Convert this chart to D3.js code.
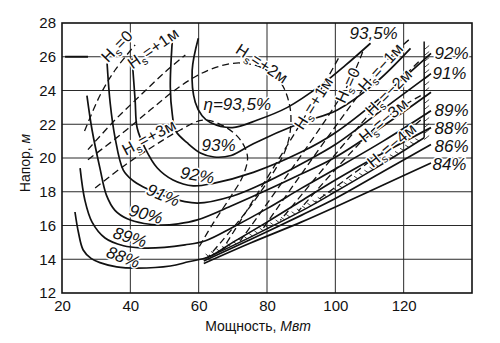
<!DOCTYPE html>
<html>
<head>
<meta charset="utf-8">
<script src="https://cdn.jsdelivr.net/npm/d3@7"></script>
<style>
  body { margin: 0; background: #fff; }
  svg { display: block; }
  text { font-family: "Liberation Sans", Arial, sans-serif; fill: #111; }
  .grid line { stroke: #2a2a2a; stroke-width: 1; }
  .frame { fill: none; stroke: #111; stroke-width: 1.6; }
  .eff { fill: none; stroke: #111; stroke-width: 1.7; }
  .hs { fill: none; stroke: #111; stroke-width: 1.3; stroke-dasharray: 7,4; }
  .limit { fill: none; stroke: #111; stroke-width: 1.5; }
  .lbl { paint-order: stroke; stroke: #fff; stroke-width: 3px; stroke-linejoin: round; }
  .pct { font-style: italic; font-size: 17px; }
  .hsl { font-size: 16px; letter-spacing: 0.5px; }
</style>
</head>
<body>
<div id="chart"></div>
<script>
// axis ticks
const xTicks = [20, 40, 60, 80, 100, 120];
const yTicks = [12, 14, 16, 18, 20, 22, 24, 26, 28];

// efficiency contours, points are [power MW, head m]
const eff84 = [[61.5,13.75],[75,14.95],[90,16.2],[100,17.1],[114,18.4],[128,19.7]];
const eff86 = [[61.5,13.9],[75,15.15],[90,16.6],[100,17.6],[114,19.2],[128,20.8]];
const eff88 = [[23.8,16.8],[24.8,15.6],[26.2,14.55],[28.5,14.05],[31.1,13.8],[36,13.55],[42,13.48],[51.7,13.6],[57,13.85],[63,14.15],[70,15.0],[80,16.2],[90,17.45],[100,18.7],[114,20.3],[128,21.8]];
const eff89 = [[25.3,19.4],[26.7,17.5],[28.8,16.2],[32.6,15.26],[38,14.8],[43,14.67],[50,14.7],[56,14.85],[62,15.1],[70,15.9],[80,17.0],[90,18.2],[100,19.35],[114,21.0],[128,22.8]];
const eff90 = [[27.3,23.7],[28.8,21.66],[31.1,19.4],[33.0,17.8],[35.5,16.9],[39.1,16.4],[44,16.12],[48.7,16.03],[54,16.1],[59.6,16.33],[70,17.2],[80,18.1],[90,19.05],[100,20.05],[114,21.9],[128,23.9]];
const eff91 = [[33.2,25.6],[34.1,23.26],[35.5,21.24],[37.9,19.3],[40.5,18.7],[43.8,18.28],[50.8,17.69],[59.6,17.33],[70,17.75],[80,18.6],[90,19.65],[100,20.8],[114,22.9],[128,25.0]];
const eff92 = [[40.5,25.9],[41.4,23.44],[42.0,21.78],[44.3,20.59],[47.9,19.41],[52.5,18.7],[58.4,18.35],[64.3,18.5],[76,19.15],[90,20.35],[100,21.5],[114,23.7],[128,26.2]];
const eff93 = [[52.3,27.0],[51.7,24.2],[52.3,22.55],[53.3,21.6],[56.7,20.89],[60.5,20.3],[64.5,20.06],[69.5,20.15],[76,20.85],[89.8,22.07],[100.6,22.85],[112,24.5],[122,26.5]];
const eff935 = [[59.9,27.1],[58.1,25.2],[59.0,23.3],[61,22.5],[63.4,22.1],[69.9,21.8],[77.2,22.25],[86,23.0],[95.7,24.3],[103,25.5],[110.3,26.8]];

// suction head lines H_s
const hs0Left = [[26.6,21.6],[31.1,23.7],[35.5,25.2],[41.4,26.7]];
const hs1Left = [[27.6,20.5],[35.5,22.25],[42.9,23.7],[50.2,25.1],[56.1,26.1]];
const hs2 = [[27.6,19.9],[37.0,21.36],[45.8,22.84],[53.1,24.03],[59.9,24.92],[66.3,25.45],[72.2,25.63],[78.7,25.33],[83.9,24.5],[86.6,23.14],[86.9,21.78],[85.4,20.47],[81.0,18.87],[74.3,16.92],[66.3,14.96],[62.5,14.07]];
const hs3 = [[29.7,18.22],[38.5,19.59],[47.3,20.77],[54.6,21.66],[61.4,22.25],[67.8,21.84],[72.2,21.07],[74.3,20.06],[72.8,18.87],[69.3,17.69],[64.3,16.15],[59.6,14.55]];
const hs1Right = [[100.9,25.9],[93.6,23.3],[66.9,14.55]];
const hs0Right = [[108.0,26.3],[103.6,24.3],[72.2,15.1]];
const hsM1 = [[121.5,27.0],[113.3,25.4],[78.6,15.75]];
const hsM2 = [[124.4,25.7],[115.6,23.9],[83.9,16.3]];
const hsM3 = [[125,23.7],[114.1,22.25],[89.2,16.85]];
const hsM4 = [[125,22.25],[116.5,20.8],[94.2,17.4]];

// power limit (hatched) and design head mark
const limitDiag = [[62,14.05],[75,15.3],[90,16.85],[100,18.0],[113,19.55],[126,21.2]];
const limitVert = [[126,21.2],[126,26.9]];
const designHead = [[20.9,26],[27.6,26]];

// labels: [text, power, head]
const effLabels = [
  ['η=93,5%', 71.3, 23.2], ['93%', 65.8, 20.77], ['92%', 59.6, 18.99], ['91%', 49.6, 17.81],
  ['90%', 44.6, 16.68], ['89%', 39.9, 15.32], ['88%', 37.9, 14.13], ['93,5%', 111.2, 27.41],
  ['92%', 134.0, 26.22], ['91%', 133.4, 25.04], ['89%', 134.0, 22.84], ['88%', 134.0, 21.78],
  ['86%', 134.0, 20.71], ['84%', 133.4, 19.64]
];
const effLabelAngles = [0, 0, 10, 22, 15, 17, 20, 0, 0, 0, 0, 0, 0, 0];
const hsLabels = [
  ['=0', 36.1, 26.64], ['=+1м', 46.7, 26.52], ['=+3м', 45.5, 21.24], ['=+2м', 78.6, 25.6],
  ['=+1м', 93.6, 23.26], ['=0', 103.6, 24.33], ['=−1м', 113.3, 25.39], ['=−2м', 115.6, 23.91],
  ['=−3м', 114.1, 22.25], ['=−4м', 116.5, 20.77]
];
const hsLabelAngles = [-46, -35, -28, 33, -58, -65, -48, -45, -40, -40];

let margin = { top: 23, right: 28, bottom: 50, left: 62 },
    width = 500 - margin.left - margin.right,
    height = 343 - margin.top - margin.bottom;

let x = d3.scaleLinear().domain([20, 140]).range([0, width]);
let y = d3.scaleLinear().domain([12, 28]).range([height, 0]);

let svg = d3.select('#chart')
    .append('svg')
    .attr('width', width + margin.left + margin.right)
    .attr('height', height + margin.top + margin.bottom)
    .append('g')
    .attr('transform', 'translate(' + margin.left + ',' + margin.top + ')');

// grid
let grid = svg.append('g').attr('class', 'grid');
grid.selectAll('.gx').data(xTicks.slice(1)).enter().append('line')
    .attr('x1', d => x(d)).attr('x2', d => x(d)).attr('y1', 0).attr('y2', height);
grid.selectAll('.gy').data(yTicks.slice(1, -1)).enter().append('line')
    .attr('x1', 0).attr('x2', width).attr('y1', d => y(d)).attr('y2', d => y(d));
svg.append('rect').attr('class', 'frame').attr('width', width).attr('height', height);

// axes
svg.append('g')
    .attr('transform', 'translate(0,' + height + ')')
    .call(d3.axisBottom(x).tickValues(xTicks).tickSize(0).tickPadding(7))
    .call(g => g.select('.domain').remove())
    .attr('font-size', 15).attr('font-family', '"Liberation Sans", Arial, sans-serif');
svg.append('g')
    .call(d3.axisLeft(y).tickValues(yTicks).tickSize(0).tickPadding(6))
    .call(g => g.select('.domain').remove())
    .attr('font-size', 15).attr('font-family', '"Liberation Sans", Arial, sans-serif');

let xt = svg.append('text').attr('x', width / 2 - 9).attr('y', height + 38)
    .attr('text-anchor', 'middle').attr('font-size', 14);
xt.append('tspan').text('Мощность, ');
xt.append('tspan').attr('font-style', 'italic').text('Мвт');
let yt = svg.append('text').attr('transform', 'translate(' + (-32) + ',' + 140 + ') rotate(-90)')
    .attr('text-anchor', 'middle').attr('font-size', 14);
yt.append('tspan').text('Напор, ');
yt.append('tspan').attr('font-style', 'italic').text('м');

let line = d3.line()
    .x(d => x(d[0]))
    .y(d => y(d[1]))
    .curve(d3.curveCatmullRom.alpha(0.5));

// hatched power limit
let limitPath = svg.append('path').attr('class', 'limit').attr('d', line(limitDiag));
svg.append('path').attr('class', 'limit').attr('d', d3.line().x(d => x(d[0])).y(d => y(d[1]))(limitVert));
let node = limitPath.node(), len = node.getTotalLength();
let ticks = [];
for (let s = 4; s < len; s += 6) {
    let p = node.getPointAtLength(s), q = node.getPointAtLength(Math.min(len, s + 1));
    let dx = q.x - p.x, dy = q.y - p.y, n = Math.hypot(dx, dy) || 1;
    ticks.push([p.x, p.y, p.x + (-dy / n) * -4 + dx / n * -2, p.y + (dx / n) * -4 + dy / n * -2]);
}
svg.append('g').selectAll('line').data(ticks).enter().append('line')
    .attr('x1', d => d[0]).attr('y1', d => d[1]).attr('x2', d => d[2]).attr('y2', d => d[3])
    .attr('stroke', '#111').attr('stroke-width', 0.8);
svg.append('g').selectAll('line')
    .data(d3.range(y(limitVert[1][1]) + 4, y(limitVert[0][1]), 6)).enter().append('line')
    .attr('x1', x(126)).attr('x2', x(126) + 5).attr('y1', d => d + 4).attr('y2', d => d)
    .attr('stroke', '#111').attr('stroke-width', 0.8);

// H_s dashed lines
svg.append('g').selectAll('path')
    .data([hs0Left, hs1Left, hs2, hs3, hs1Right, hs0Right, hsM1, hsM2, hsM3, hsM4])
    .enter().append('path').attr('class', 'hs').attr('d', line);

// efficiency contours
svg.append('g').selectAll('path')
    .data([eff84, eff86, eff88, eff89, eff90, eff91, eff92, eff93, eff935])
    .enter().append('path').attr('class', 'eff').attr('d', line);

svg.append('path').attr('d', d3.line().x(d => x(d[0])).y(d => y(d[1]))(designHead))
    .attr('stroke', '#111').attr('stroke-width', 2);

// labels
svg.append('g').selectAll('text').data(effLabels).enter().append('text')
    .attr('class', 'lbl pct')
    .attr('text-anchor', 'middle').attr('dy', '0.35em')
    .attr('transform', (d, i) => 'translate(' + x(d[1]) + ',' + y(d[2]) + ') rotate(' + effLabelAngles[i] + ')')
    .text(d => d[0]);

let hl = svg.append('g').selectAll('text').data(hsLabels).enter().append('text')
    .attr('class', 'lbl hsl')
    .attr('text-anchor', 'middle').attr('dy', '0.35em')
    .attr('transform', (d, i) => 'translate(' + x(d[1]) + ',' + y(d[2]) + ') rotate(' + hsLabelAngles[i] + ')');
hl.append('tspan').text('H');
hl.append('tspan').attr('font-size', 11).attr('dy', 4).text('s');
hl.append('tspan').attr('dy', -4).text(d => d[0]);
</script>
</body>
</html>
